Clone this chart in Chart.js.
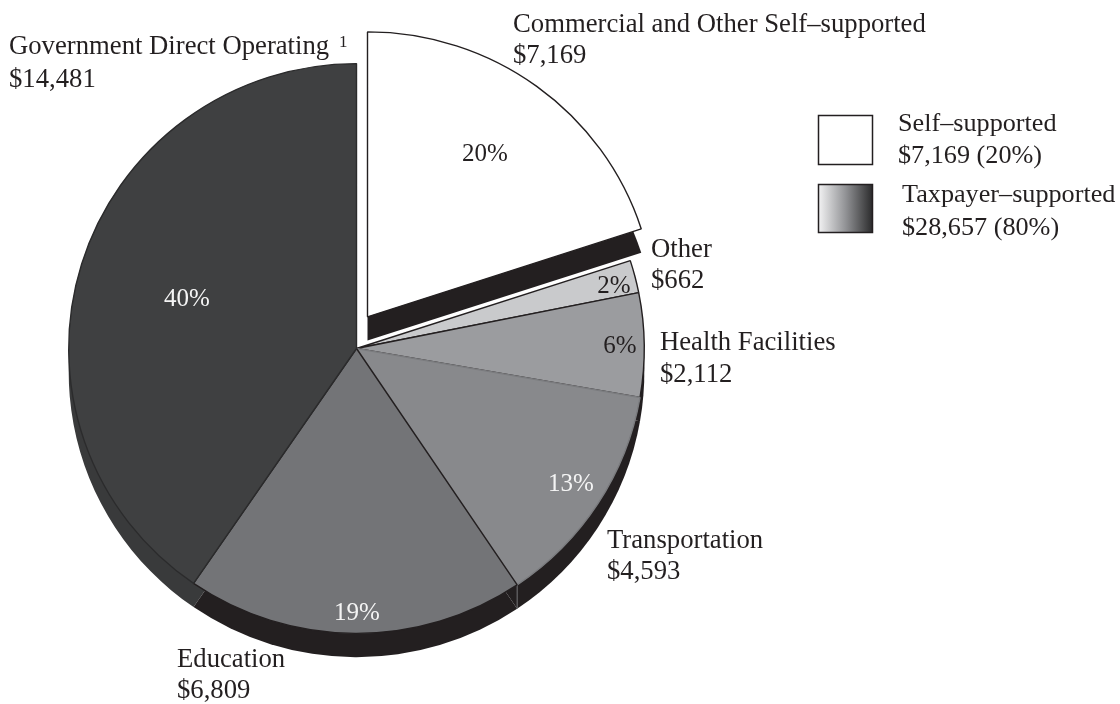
<!DOCTYPE html>
<html>
<head>
<meta charset="utf-8">
<title>Pie chart</title>
<script src="https://cdn.jsdelivr.net/npm/chart.js@4/dist/chart.umd.min.js"></script>
<style>
  html, body { margin: 0; padding: 0; background: #fff; }
  #wrap { width: 1120px; height: 704px; }
</style>
</head>
<body>
<div id="wrap"><canvas id="grafico" width="1120" height="704"></canvas></div>
<script>
const categorias = ["Commercial and Other Self–supported", "Other", "Health Facilities", "Transportation", "Education", "Government Direct Operating"];
const valores = [7169, 662, 2112, 4593, 6809, 14481];
const montos = ["$7,169", "$662", "$2,112", "$4,593", "$6,809", "$14,481"];
const porcentajes = ["20%", "2%", "6%", "13%", "19%", "40%"];
const leyendaTitulos = ["Self–supported", "Taxpayer–supported"];
const leyendaMontos = ["$7,169 (20%)", "$28,657 (80%)"];

const colores = ["#ffffff", "#c9cacc", "#9b9c9f", "#88898c", "#737477", "#3f4041"];
const bordes = ["#231f20", "#231f20", "#231f20", "#7b7c7f", "#231f20", "#2b2b2c"];
const coloresLado = ["#231f20", "#231f20", "#231f20", "#231f20", "#231f20", "#393a3b"];

// donde va cada texto (x, linea base del nombre, linea base del monto)
const posEtiquetas = [[513, 32, 63], [651, 257, 288], [660, 350, 382], [607, 548, 579], [177, 667, 698], [9, 54, 87]];
const posPorcentajes = [[485, 161, "#231f20"], [614, 293, "#231f20"], [620, 353, "#231f20"], [571, 491, "#f4f4f4"], [357, 620, "#f4f4f4"], [187, 306, "#f4f4f4"]];

const FUENTE = '"Liberation Serif"';
const PROFUNDIDAD = 24;
const APLASTE = 0.99; // el pastel original es apenas mas bajo que ancho
const TINTA = "#231f20";

function ladoArco(ctx, arc, color, dy) {
    const p = arc.getProps(["x", "y", "startAngle", "endAngle", "outerRadius"], true);
    ctx.beginPath();
    ctx.moveTo(p.x, p.y + dy);
    ctx.arc(p.x, p.y + dy, p.outerRadius, p.startAngle, p.endAngle);
    ctx.closePath();
    ctx.fillStyle = color;
    ctx.fill();
}

const pastel3d = {
    id: "pastel3d",
    beforeDatasetsDraw(chart) {
        const ctx = chart.ctx;
        const arcos = chart.getDatasetMeta(0).data;
        const cy = arcos[0].y;

        ctx.save();
        ctx.translate(0, cy);
        ctx.scale(1, APLASTE);
        ctx.translate(0, -cy);

        // primero los lados oscuros
        for (let i = arcos.length - 1; i >= 1; i--) {
            ladoArco(ctx, arcos[i], coloresLado[i], PROFUNDIDAD);
        }
        // raya gris entre transportation y education
        const t = arcos[3].getProps(["x", "y", "endAngle", "outerRadius"], true);
        const bx = t.x + t.outerRadius * Math.cos(t.endAngle);
        const by = t.y + t.outerRadius * Math.sin(t.endAngle);
        ctx.strokeStyle = "#77787a";
        ctx.lineWidth = 1;
        ctx.beginPath();
        ctx.moveTo(bx, by);
        ctx.lineTo(bx, by + PROFUNDIDAD);
        ctx.stroke();

        for (let i = 1; i < arcos.length; i++) {
            arcos[i].draw(ctx);
        }

        // la rebanada blanca va separada del resto
        ctx.translate(11, -32);
        ladoArco(ctx, arcos[0], coloresLado[0], PROFUNDIDAD);
        arcos[0].draw(ctx);
        ctx.restore();
        return false;
    },
    afterDraw(chart) {
        const ctx = chart.ctx;
        ctx.save();
        ctx.textBaseline = "alphabetic";

        categorias.forEach(function (nombre, i) {
            ctx.font = "26.7px " + FUENTE;
            ctx.fillStyle = TINTA;
            ctx.textAlign = "left";
            const pos = posEtiquetas[i];
            ctx.fillText(nombre, pos[0], pos[1]);
            ctx.fillText(montos[i], pos[0], pos[2]);
            if (i === 5) {
                ctx.font = "17px " + FUENTE;
                ctx.fillText("1", 339, 47);
            }
            const pc = posPorcentajes[i];
            ctx.font = "25px " + FUENTE;
            ctx.textAlign = "center";
            ctx.fillStyle = pc[2];
            ctx.fillText(porcentajes[i], pc[0], pc[1]);
        });

        // leyenda
        ctx.font = "26.2px " + FUENTE;
        ctx.textAlign = "left";
        ctx.fillStyle = TINTA;
        ctx.fillText(leyendaTitulos[0], 898, 131);
        ctx.fillText(leyendaMontos[0], 898, 163);
        ctx.fillText(leyendaTitulos[1], 902, 202);
        ctx.fillText(leyendaMontos[1], 902, 235);

        ctx.strokeStyle = TINTA;
        ctx.lineWidth = 1.5;
        ctx.fillStyle = "#ffffff";
        ctx.fillRect(818.5, 115.5, 54, 49);
        ctx.strokeRect(818.5, 115.5, 54, 49);

        const grad = ctx.createLinearGradient(818, 0, 873, 0);
        grad.addColorStop(0, "#f4f4f5");
        grad.addColorStop(0.5, "#929396");
        grad.addColorStop(1, "#29292a");
        ctx.fillStyle = grad;
        ctx.fillRect(818.5, 184.5, 54, 48);
        ctx.strokeRect(818.5, 184.5, 54, 48);
        ctx.restore();
    }
};

new Chart(document.getElementById("grafico").getContext("2d"), {
    type: "pie",
    data: {
        labels: categorias,
        datasets: [{
            data: valores,
            backgroundColor: colores,
            borderColor: bordes,
            borderWidth: 1.4
        }]
    },
    options: {
        responsive: false,
        animation: false,
        layout: { padding: { left: 68, right: 475, top: 60, bottom: 67 } },
        plugins: {
            legend: { display: false },
            tooltip: { enabled: false }
        },
        events: []
    },
    plugins: [pastel3d]
});
</script>
</body>
</html>
